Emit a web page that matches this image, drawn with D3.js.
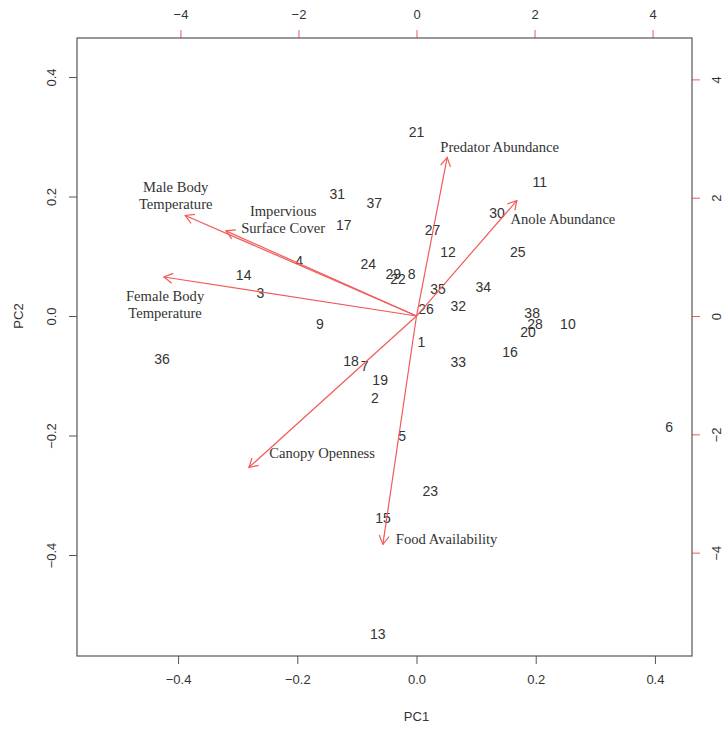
<!DOCTYPE html>
<html>
<head>
<meta charset="utf-8">
<script src="https://cdn.jsdelivr.net/npm/d3@7"></script>
<style>
  body { margin: 0; background: #fff; }
</style>
</head>
<body>
<script>
const width = 726;
const height = 730;

// site scores (PC1, PC2) with their site numbers
const sites = ["21","11","30","25","31","37","17","27","12","4","24","29","22","8","35","34","32","26",
               "14","3","9","36","38","28","20","10","16","1","33","18","7","19","2","5","6","23","15","13"];
const pc1 = [0.000, 0.207, 0.135, 0.170, -0.133, -0.071, -0.122, 0.027, 0.053, -0.197, -0.081, -0.039, -0.031, -0.008, 0.036, 0.112, 0.070, 0.016,
             -0.290, -0.262, -0.162, -0.427, 0.194, 0.199, 0.187, 0.254, 0.157, 0.008, 0.070, -0.110, -0.087, -0.061, -0.070, -0.024, 0.424, 0.023, -0.056, -0.065];
const pc2 = [0.308, 0.224, 0.172, 0.107, 0.204, 0.189, 0.153, 0.144, 0.107, 0.092, 0.087, 0.070, 0.062, 0.070, 0.045, 0.049, 0.017, 0.011,
             0.069, 0.038, -0.013, -0.072, 0.005, -0.013, -0.027, -0.013, -0.060, -0.044, -0.077, -0.075, -0.083, -0.107, -0.137, -0.201, -0.186, -0.293, -0.338, -0.532];

// variable loadings (top / right axis units)
const variables = ["Predator Abundance", "Anole Abundance", "Male Body|Temperature", "Impervious|Surface Cover",
                   "Female Body|Temperature", "Canopy Openness", "Food Availability"];
const load1 = [0.52, 1.70, -3.92, -3.23, -4.28, -2.84, -0.57];
const load2 = [2.68, 1.95, 1.70, 1.44, 0.66, -2.56, -3.86];
// where each variable name sits (same units)
const labelX = [1.41, 2.48, -4.08, -2.26, -4.26, -1.60, 0.51];
const labelY = [2.86, 1.64, 2.04, 1.64, 0.20, -2.32, -3.76];

const pcTicks = [-0.4, -0.2, 0.0, 0.2, 0.4];
const loadTicks = [-4, -2, 0, 2, 4];

const margin = {top: 38, right: 34, bottom: 74, left: 77};
const k = 10.1; // ratio between loading axes and score axes

const x = d3.scaleLinear().domain([-0.5696, 0.4622]).range([margin.left, width - margin.right]);
const y = d3.scaleLinear().domain([-0.569, 0.4653]).range([height - margin.bottom, margin.top]);
const x2 = d3.scaleLinear().domain(x.domain().map(d => d * k)).range(x.range());
const y2 = d3.scaleLinear().domain(y.domain().map(d => d * k)).range(y.range());

const svg = d3.select("body").append("svg")
    .attr("width", width)
    .attr("height", height)
    .style("font-family", "'Liberation Sans', Arial, sans-serif");

const textColor = "#333";
const red = "#f25a5a";

//Bottom axis
const xAxis = svg.append("g")
    .attr("transform", `translate(0,${height - margin.bottom})`)
    .call(d3.axisBottom(x).tickValues(pcTicks).tickFormat(d3.format(".1f")).tickSize(8).tickPadding(11));
//Left axis
const yAxis = svg.append("g")
    .attr("transform", `translate(${margin.left},0)`)
    .call(d3.axisLeft(y).tickValues(pcTicks).tickFormat(d3.format(".1f")).tickSize(8).tickPadding(11));
yAxis.selectAll("text")
    .attr("transform", "rotate(-90, -26, 0)")
    .attr("x", -26)
    .attr("y", 0)
    .attr("dy", "0.35em")
    .style("text-anchor", "middle");

//Top axis (red)
const xAxis2 = svg.append("g")
    .attr("transform", `translate(0,${margin.top})`)
    .call(d3.axisTop(x2).tickValues(loadTicks).tickSize(8).tickPadding(11));
//Right axis (red)
const yAxis2 = svg.append("g")
    .attr("transform", `translate(${width - margin.right},0)`)
    .call(d3.axisRight(y2).tickValues(loadTicks).tickSize(8).tickPadding(11));
yAxis2.selectAll("text")
    .attr("transform", "rotate(-90, 24, 0)")
    .attr("x", 24)
    .attr("y", 0)
    .attr("dy", "0.35em")
    .style("text-anchor", "middle");

svg.selectAll(".domain").remove();
[xAxis, yAxis].forEach(a => a.selectAll("line").attr("stroke", "#555"));
[xAxis2, yAxis2].forEach(a => a.selectAll("line").attr("stroke", red));
svg.selectAll(".tick text")
    .style("font-size", "13px")
    .style("font-family", "'Liberation Sans', Arial, sans-serif")
    .attr("fill", textColor);

//Plot box
svg.append("rect")
    .attr("x", margin.left)
    .attr("y", margin.top)
    .attr("width", width - margin.left - margin.right)
    .attr("height", height - margin.top - margin.bottom)
    .attr("fill", "none")
    .attr("stroke", "#555")
    .attr("stroke-width", 1.2);

//Axis titles
svg.append("text")
    .attr("x", x(0))
    .attr("y", 721)
    .attr("text-anchor", "middle")
    .style("font-size", "13px")
    .attr("fill", textColor)
    .text("PC1");
svg.append("text")
    .attr("transform", `translate(23,${y(0)}) rotate(-90)`)
    .attr("text-anchor", "middle")
    .style("font-size", "13px")
    .attr("fill", textColor)
    .text("PC2");

//Site labels
svg.append("g").selectAll("text")
    .data(sites)
    .join("text")
    .attr("x", (d, i) => x(pc1[i]))
    .attr("y", (d, i) => y(pc2[i]))
    .attr("dy", "0.36em")
    .attr("text-anchor", "middle")
    .style("font-size", "14px")
    .attr("fill", textColor)
    .text(d => d);

//Loading arrows
const arrows = svg.append("g")
    .attr("stroke", red)
    .attr("stroke-width", 1.2)
    .attr("fill", "none");

variables.forEach((v, i) => {
    const x0 = x2(0), y0 = y2(0);
    const x1 = x2(load1[i]), y1 = y2(load2[i]);
    const ang = Math.atan2(y1 - y0, x1 - x0);
    const len = 10, spread = Math.PI / 6;
    arrows.append("line")
        .attr("x1", x0).attr("y1", y0)
        .attr("x2", x1).attr("y2", y1);
    arrows.append("path")
        .attr("d", `M${x1 - len * Math.cos(ang - spread)},${y1 - len * Math.sin(ang - spread)}`
                 + `L${x1},${y1}`
                 + `L${x1 - len * Math.cos(ang + spread)},${y1 - len * Math.sin(ang + spread)}`);
});

//Variable names
const varLabels = svg.append("g").selectAll("text")
    .data(variables)
    .join("text")
    .attr("x", (d, i) => x2(labelX[i]))
    .attr("y", (d, i) => y2(labelY[i]))
    .attr("text-anchor", "middle")
    .style("font-family", "'Liberation Serif', 'Times New Roman', serif")
    .style("font-size", "14.6px")
    .attr("fill", textColor);

varLabels.each(function(d) {
    const lines = d.split("|");
    const t = d3.select(this);
    lines.forEach((line, j) => {
        t.append("tspan")
            .attr("x", t.attr("x"))
            .attr("dy", j === 0 ? `${0.35 - (lines.length - 1) * 0.58}em` : "1.16em")
            .text(line);
    });
});
</script>
</body>
</html>
